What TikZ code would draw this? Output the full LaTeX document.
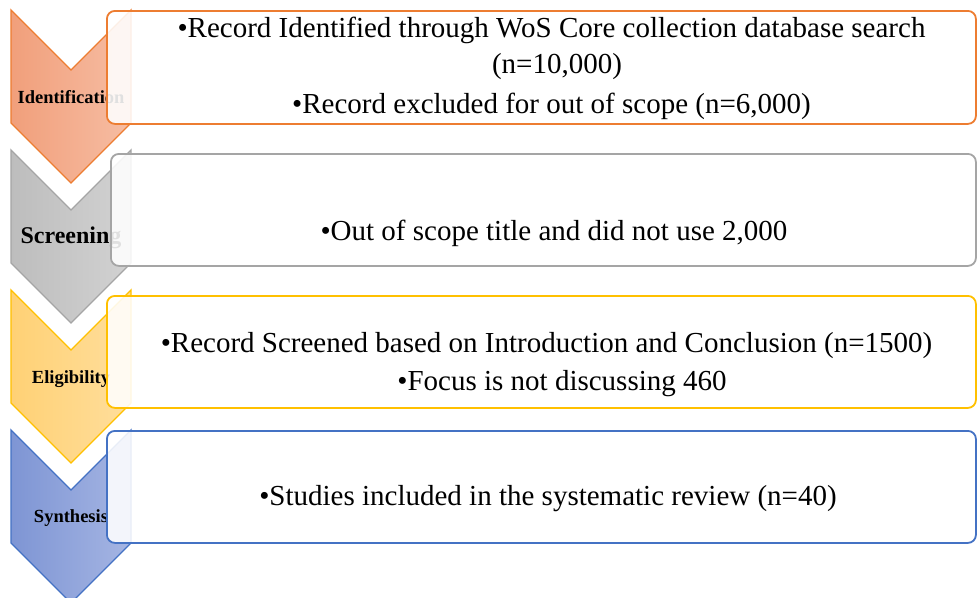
\documentclass[tikz,border=0pt]{standalone}
\usepackage{fontspec}
\setmainfont{Liberation Serif}
\definecolor{orEdge}{HTML}{ED7D31}
\definecolor{orL}{HTML}{F19F7B}
\definecolor{orR}{HTML}{F6BDA3}
\definecolor{grEdge}{HTML}{A5A5A5}
\definecolor{grL}{HTML}{BDBDBD}
\definecolor{grR}{HTML}{D2D2D2}
\definecolor{yeEdge}{HTML}{FFC000}
\definecolor{yeL}{HTML}{FFD175}
\definecolor{yeR}{HTML}{FFDE9C}
\definecolor{blEdge}{HTML}{4472C4}
\definecolor{blL}{HTML}{7E95D4}
\definecolor{blR}{HTML}{A5B5E3}
\begin{document}
\begin{tikzpicture}[x=1pt,y=-1pt,
  chev/.style={line width=1.3pt, line join=miter},
  stagebox/.style={rounded corners=8pt, line width=1.8pt, fill=white,
    fill opacity=0.88, anchor=north west, inner sep=0pt, minimum width=869pt},
  stagelabel/.style={font=\bfseries\fontsize{18.5}{22}\selectfont, anchor=base, inner sep=0pt},
  itemtext/.style={font=\fontsize{29}{35}\selectfont, anchor=base, inner sep=0pt}]
\useasboundingbox (0,0) rectangle (977,597);
\clip (0,0) rectangle (977,597);

% stage chevrons
\path[chev, draw=orEdge, left color=orL, right color=orR]
  (11,10) -- (71,70) -- (131,10) -- (131,123) -- (71,183) -- (11,123) -- cycle;
\path[chev, draw=grEdge, left color=grL, right color=grR]
  (11,150) -- (71,210) -- (131,150) -- (131,263) -- (71,323) -- (11,263) -- cycle;
\path[chev, draw=yeEdge, left color=yeL, right color=yeR]
  (11,290) -- (71,350) -- (131,290) -- (131,403) -- (71,463) -- (11,403) -- cycle;
\path[chev, draw=blEdge, left color=blL, right color=blR]
  (11,430) -- (71,490) -- (131,430) -- (131,543) -- (71,603) -- (11,543) -- cycle;

% stage names
\node[stagelabel] (lblA) at (71,103) {Identification};
\node[stagelabel, font=\bfseries\fontsize{24}{28}\selectfont] (lblB) at (71,243) {Screening};
\node[stagelabel] (lblC) at (71,383) {Eligibility};
\node[stagelabel] (lblD) at (71,522) {Synthesis};

% stage boxes
\node[stagebox, draw=orEdge, minimum height=113pt] (boxA) at (106,10) {};
\node[stagebox, draw=grEdge, minimum height=112pt, minimum width=865pt] (boxB) at (110,153) {};
\node[stagebox, draw=yeEdge, minimum height=112pt] (boxC) at (106,295) {};
\node[stagebox, draw=blEdge, minimum height=112pt] (boxD) at (106,430) {};

% box contents
\node[itemtext] (a1) at (551.5,37) {•Record Identified through WoS Core collection database search};
\node[itemtext] (a2) at (557,73) {(n=10,000)};
\node[itemtext] (a3) at (551.5,113) {•Record excluded for out of scope (n=6,000)};
\node[itemtext] (b1) at (554,240) {•Out of scope title and did not use 2,000};
\node[itemtext] (c1) at (546.5,352) {•Record Screened based on Introduction and Conclusion (n=1500)};
\node[itemtext] (c2) at (562,390) {•Focus is not discussing 460};
\node[itemtext] (d1) at (548,505) {•Studies included in the systematic review (n=40)};
\end{tikzpicture}
\end{document}
